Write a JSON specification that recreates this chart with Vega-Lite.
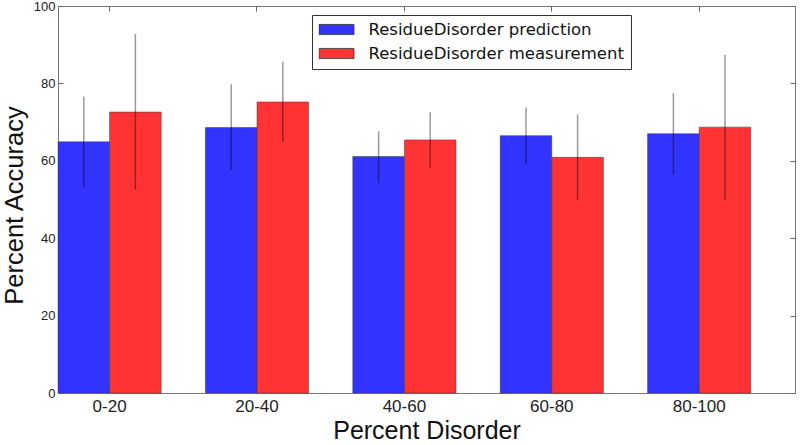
{
  "$schema": "https://vega.github.io/schema/vega-lite/v6.json",
  "width": 737,
  "height": 387,
  "autosize": {"type": "none"},
  "padding": {"left": 58, "top": 6, "right": 5, "bottom": 52},
  "background": "white",
  "config": {
    "view": {"stroke": "#777", "strokeWidth": 1},
    "font": "Liberation Sans",
    "axis": {"domain": false, "grid": false, "tickColor": "#666", "tickWidth": 1, "labelColor": "#222", "titleColor": "#111", "titleFontWeight": "normal", "titleFont": "Liberation Sans", "labelFont": "Liberation Sans"}
  },
  "data": {"values": [
    {"bin": "0-20", "series": "ResidueDisorder prediction", "acc": 64.9, "lo": 53.1, "hi": 76.6},
    {"bin": "0-20", "series": "ResidueDisorder measurement", "acc": 72.6, "lo": 52.5, "hi": 92.8},
    {"bin": "20-40", "series": "ResidueDisorder prediction", "acc": 68.6, "lo": 57.6, "hi": 79.8},
    {"bin": "20-40", "series": "ResidueDisorder measurement", "acc": 75.2, "lo": 64.9, "hi": 85.6},
    {"bin": "40-60", "series": "ResidueDisorder prediction", "acc": 61.1, "lo": 54.3, "hi": 67.6},
    {"bin": "40-60", "series": "ResidueDisorder measurement", "acc": 65.4, "lo": 58.2, "hi": 72.5},
    {"bin": "60-80", "series": "ResidueDisorder prediction", "acc": 66.5, "lo": 59.2, "hi": 73.8},
    {"bin": "60-80", "series": "ResidueDisorder measurement", "acc": 60.9, "lo": 49.9, "hi": 72.0},
    {"bin": "80-100", "series": "ResidueDisorder prediction", "acc": 67.0, "lo": 56.5, "hi": 77.5},
    {"bin": "80-100", "series": "ResidueDisorder measurement", "acc": 68.7, "lo": 50.0, "hi": 87.4}
  ]},
  "layer": [
    {
      "mark": {"type": "bar", "stroke": "#333", "strokeWidth": 0.8, "strokeOpacity": 0.6},
      "encoding": {
        "x": {"field": "bin", "type": "nominal", "sort": ["0-20", "20-40", "40-60", "60-80", "80-100"],
          "scale": {"paddingInner": 0.3, "paddingOuter": 0.15, "align": 0},
          "axis": {"orient": "bottom", "title": "Percent Disorder", "labelAngle": 0, "labelFontSize": 17, "tickSize": -5, "labelPadding": 10, "titleFontSize": 25, "titleBaseline": "alphabetic", "titleY": 45}},
        "xOffset": {"field": "series", "type": "nominal", "sort": ["ResidueDisorder prediction", "ResidueDisorder measurement"], "scale": {"paddingInner": 0, "paddingOuter": 0}},
        "y": {"field": "acc", "type": "quantitative",
          "scale": {"domain": [0, 100], "nice": false},
          "axis": {"orient": "left", "title": "Percent Accuracy", "values": [0, 20, 40, 60, 80, 100], "labelFontSize": 13, "tickSize": -5, "labelPadding": 8, "titleFontSize": 25.5, "titleBaseline": "alphabetic", "titleX": -36, "titleY": 199}},
        "color": {"field": "series", "type": "nominal", "sort": ["ResidueDisorder prediction", "ResidueDisorder measurement"],
          "scale": {"range": ["#3333ff", "#ff3333"]},
          "legend": {"title": null, "orient": "none", "legendX": 254, "legendY": 9, "padding": 6.5, "strokeColor": "#333", "fillColor": "white", "labelFont": "DejaVu Sans", "labelFontSize": 16.5, "labelColor": "#111", "labelLimit": 400, "labelOffset": 14, "symbolType": "M-1,-0.29H1V0.29H-1Z", "symbolSize": 1225, "symbolStrokeColor": "#333", "symbolStrokeWidth": 0.8, "symbolOpacity": 1, "clipHeight": 16, "rowPadding": 7, "labelBaseline": "middle"}}
      }
    },
    {
      "mark": {"type": "rule", "color": "black", "opacity": 0.4, "strokeWidth": 1.5},
      "encoding": {
        "x": {"field": "bin", "type": "nominal", "sort": ["0-20", "20-40", "40-60", "60-80", "80-100"],
          "axis": {"orient": "top", "title": null, "labels": false, "tickSize": -5}},
        "xOffset": {"field": "series", "type": "nominal", "sort": ["ResidueDisorder prediction", "ResidueDisorder measurement"]},
        "y": {"field": "lo", "type": "quantitative",
          "axis": {"orient": "right", "title": null, "labels": false, "values": [0, 20, 40, 60, 80, 100], "tickSize": -5}},
        "y2": {"field": "hi"}
      }
    }
  ],
  "resolve": {"axis": {"x": "independent", "y": "independent"}}
}
